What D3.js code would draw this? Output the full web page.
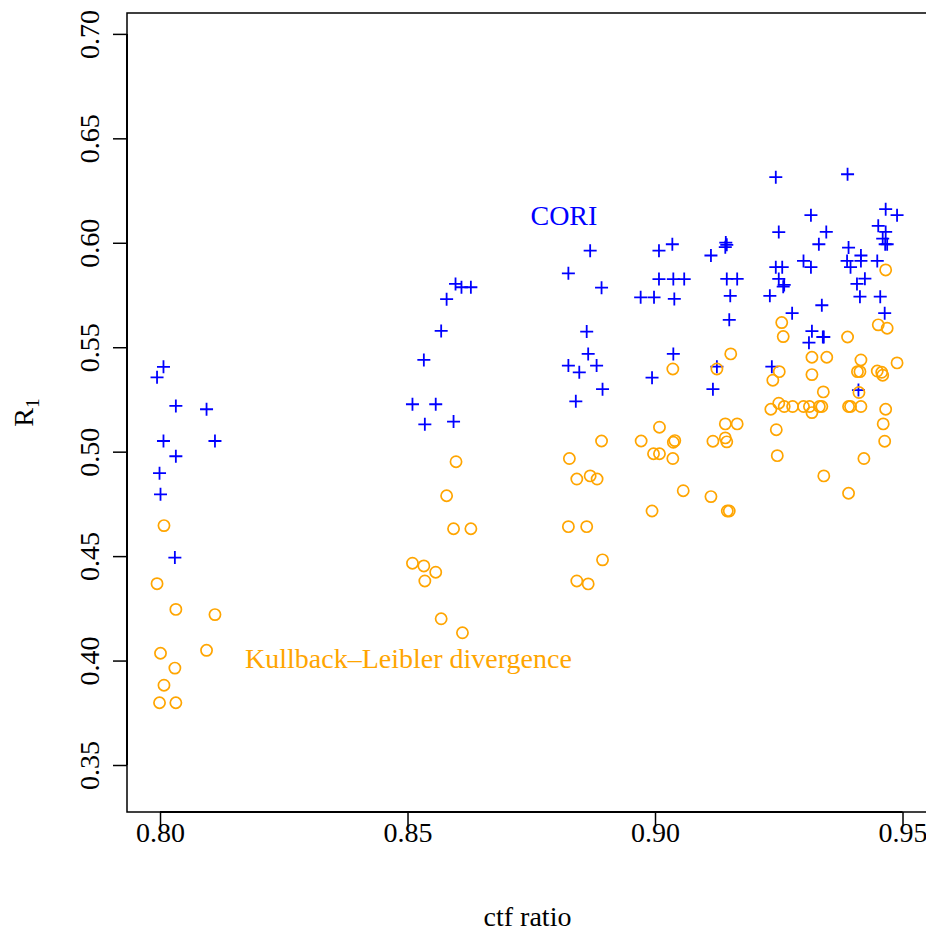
<!DOCTYPE html>
<html>
<head>
<meta charset="utf-8">
<script src="https://cdn.jsdelivr.net/npm/d3@7"></script>
<style>
  html, body { margin: 0; padding: 0; background: #fff; }
  svg { display: block; }
</style>
</head>
<body>
<div class="scatter-container"></div>
<script>
// ---- data ----
const coriCtf = [
  0.8007, 0.7994, 0.8032, 0.8094, 0.8007, 0.8111, 0.8032, 0.7999, 0.8001, 0.8030,
  0.8597, 0.8609, 0.8628, 0.8579, 0.8568, 0.8533, 0.8510, 0.8557, 0.8535, 0.8593,
  0.8869, 0.8825, 0.8892, 0.8862, 0.8865, 0.8825, 0.8847, 0.8882, 0.8894, 0.8840,
  0.8971, 0.8998, 0.9008, 0.9035, 0.9008, 0.9037, 0.9059, 0.9039, 0.9037, 0.8994,
  0.9113, 0.9143, 0.9142, 0.9145, 0.9145, 0.9166, 0.9152, 0.9150, 0.9125, 0.9117,
  0.9244, 0.9250, 0.9244, 0.9257, 0.9250, 0.9261, 0.9259, 0.9232, 0.9277, 0.9236,
  0.9315, 0.9346, 0.9331, 0.9300, 0.9315, 0.9337, 0.9317, 0.9341, 0.9339, 0.9311,
  0.9389, 0.9391, 0.9416, 0.9388, 0.9395, 0.9416, 0.9424, 0.9408, 0.9414, 0.9411,
  0.9466, 0.9489, 0.9451, 0.9466, 0.9460, 0.9465, 0.9469, 0.9449, 0.9455, 0.9464
];
const coriR1 = [
  0.5406, 0.5356, 0.5219, 0.5203, 0.5051, 0.5051, 0.4978, 0.4897, 0.4796, 0.4493,
  0.5803, 0.5787, 0.5787, 0.5730, 0.5578, 0.5439, 0.5227, 0.5227, 0.5131, 0.5144,
  0.5962, 0.5854, 0.5785, 0.5575, 0.5468, 0.5412, 0.5380, 0.5412, 0.5299, 0.5241,
  0.5739, 0.5739, 0.5962, 0.5993, 0.5826, 0.5826, 0.5826, 0.5731, 0.5468, 0.5354,
  0.5939, 0.6001, 0.5979, 0.5990, 0.5827, 0.5827, 0.5746, 0.5631, 0.5407, 0.5299,
  0.6314, 0.6051, 0.5883, 0.5883, 0.5827, 0.5798, 0.5790, 0.5746, 0.5663, 0.5407,
  0.6132, 0.6052, 0.5993, 0.5913, 0.5883, 0.5701, 0.5577, 0.5549, 0.5549, 0.5522,
  0.6328, 0.5977, 0.5939, 0.5913, 0.5883, 0.5913, 0.5828, 0.5803, 0.5742, 0.5295,
  0.6161, 0.6132, 0.6081, 0.6052, 0.6020, 0.5993, 0.5993, 0.5913, 0.5742, 0.5663
];

const klCtf = [
  0.8008, 0.7994, 0.8032, 0.8111, 0.8001, 0.8094, 0.8030, 0.8008, 0.7999, 0.8032,
  0.8598, 0.8579, 0.8593, 0.8628, 0.8510, 0.8533, 0.8557, 0.8535, 0.8568, 0.8611,
  0.8892, 0.8827, 0.8842, 0.8869, 0.8883, 0.8825, 0.8862, 0.8894, 0.8842, 0.8865,
  0.8972, 0.8994, 0.8997, 0.9009, 0.9009, 0.9036, 0.9036, 0.9037, 0.9040, 0.9057,
  0.9125, 0.9153, 0.9117, 0.9142, 0.9166, 0.9142, 0.9145, 0.9113, 0.9146, 0.9150,
  0.9256, 0.9259, 0.9251, 0.9238, 0.9234, 0.9250, 0.9261, 0.9278, 0.9245, 0.9247,
  0.9317, 0.9347, 0.9317, 0.9340, 0.9300, 0.9312, 0.9317, 0.9332, 0.9337, 0.9341,
  0.9389, 0.9416, 0.9409, 0.9414, 0.9412, 0.9391, 0.9395, 0.9416, 0.9422, 0.9391,
  0.9466, 0.9451, 0.9469, 0.9449, 0.9458, 0.9460, 0.9489, 0.9466, 0.9461, 0.9464
];
const klR1 = [
  0.4646, 0.4368, 0.4245, 0.4220, 0.4035, 0.4049, 0.3964, 0.3882, 0.3798, 0.3798,
  0.4952, 0.4789, 0.4631, 0.4631, 0.4466, 0.4453, 0.4423, 0.4381, 0.4200, 0.4133,
  0.5051, 0.4967, 0.4869, 0.4884, 0.4869, 0.4641, 0.4641, 0.4482, 0.4381, 0.4367,
  0.5051, 0.4716, 0.4990, 0.4990, 0.5117, 0.5396, 0.4967, 0.5045, 0.5053, 0.4813,
  0.5396, 0.5468, 0.5050, 0.5133, 0.5133, 0.5066, 0.5047, 0.4785, 0.4716, 0.4716,
  0.5618, 0.5551, 0.5383, 0.5342, 0.5203, 0.5232, 0.5216, 0.5216, 0.5105, 0.4981,
  0.5452, 0.5452, 0.5369, 0.5286, 0.5216, 0.5216, 0.5187, 0.5216, 0.5216, 0.4884,
  0.5549, 0.5439, 0.5383, 0.5383, 0.5283, 0.5216, 0.5216, 0.5216, 0.4967, 0.4801,
  0.5870, 0.5607, 0.5591, 0.5386, 0.5380, 0.5366, 0.5425, 0.5203, 0.5133, 0.5050
];

const xTicks = [0.80, 0.85, 0.90, 0.95];
const yTicks = [0.35, 0.40, 0.45, 0.50, 0.55, 0.60, 0.65, 0.70];

// series labels placed in data coordinates
const labels = [
  { text: 'CORI', x: 0.8816, y: 0.6133, color: 'blue' },
  { text: 'Kullback\u2013Leibler divergence', x: 0.8502, y: 0.4012, color: 'orange' }
];

//---->LAYOUT<-----//
const outerW = 926,
  outerH = 931;

const box = { left: 127, right: 928, top: 13, bottom: 812 };

const font = '"Liberation Serif", "Times New Roman", serif',
  fontSize = 28;

const x = d3.scaleLinear()
  .domain([0.79333, 0.95515])
  .range([box.left, box.right]);

const y = d3.scaleLinear()
  .domain([0.3275, 0.7100])
  .range([box.bottom, box.top]);

const svg = d3.select('.scatter-container').append('svg')
  .attr('width', outerW)
  .attr('height', outerH)
  .style('font-family', font)
  .style('font-size', fontSize + 'px');

// plot frame
svg.append('rect')
  .attr('x', box.left)
  .attr('y', box.top)
  .attr('width', box.right - box.left)
  .attr('height', box.bottom - box.top)
  .attr('fill', 'none')
  .attr('stroke', '#000')
  .attr('stroke-width', 1.5);

// x axis
const xAxis = svg.append('g')
  .attr('transform', `translate(0, ${box.bottom})`)
  .call(d3.axisBottom(x).tickValues(xTicks).tickFormat(d3.format('.2f')).tickSize(14));

xAxis.select('.domain').remove();
xAxis.selectAll('line').attr('stroke-width', 1.5);
xAxis.selectAll('text')
  .attr('y', 30)
  .attr('dy', 0)
  .style('font-family', font)
  .style('font-size', fontSize + 'px')
  .attr('fill', '#000');

xAxis.append('line')
  .attr('x1', x(xTicks[0]))
  .attr('x2', x(xTicks[xTicks.length - 1]))
  .attr('stroke', '#000')
  .attr('stroke-width', 2);

// y axis
const yAxis = svg.append('g')
  .attr('transform', `translate(${box.left}, 0)`)
  .call(d3.axisLeft(y).tickValues(yTicks).tickFormat(d3.format('.2f')).tickSize(14));

yAxis.select('.domain').remove();
yAxis.selectAll('line').attr('stroke-width', 1.5);
yAxis.selectAll('.tick text')
  .attr('x', null)
  .attr('dy', 0)
  .attr('transform', 'translate(-28, 0) rotate(-90)')
  .attr('text-anchor', 'middle')
  .style('font-family', font)
  .style('font-size', fontSize + 'px')
  .attr('fill', '#000');

yAxis.append('line')
  .attr('y1', y(yTicks[0]))
  .attr('y2', y(yTicks[yTicks.length - 1]))
  .attr('stroke', '#000')
  .attr('stroke-width', 2);

// axis titles
svg.append('text')
  .attr('x', (box.left + box.right) / 2)
  .attr('y', 926)
  .attr('text-anchor', 'middle')
  .text('ctf ratio');

const yTitle = svg.append('text')
  .attr('transform', `translate(33, ${(box.top + box.bottom) / 2}) rotate(-90)`)
  .attr('text-anchor', 'middle');
yTitle.append('tspan').text('R');
yTitle.append('tspan')
  .attr('dy', '0.3em')
  .style('font-size', (fontSize * 0.7) + 'px')
  .text('1');

// CORI: plus signs
const cori = coriCtf.map((c, i) => ({ c, r: coriR1[i] }));
const kl = klCtf.map((c, i) => ({ c, r: klR1[i] }));

const arm = 6.5;
svg.append('g')
  .attr('stroke', 'blue')
  .attr('stroke-width', 1.8)
  .attr('fill', 'none')
  .selectAll('path')
  .data(cori)
  .enter()
  .append('path')
  .attr('d', d => `M${x(d.c) - arm},${y(d.r)}h${2 * arm}M${x(d.c)},${y(d.r) - arm}v${2 * arm}`);

// KL divergence: open circles
svg.append('g')
  .attr('stroke', 'orange')
  .attr('stroke-width', 1.7)
  .attr('fill', 'none')
  .selectAll('circle')
  .data(kl)
  .enter()
  .append('circle')
  .attr('cx', d => x(d.c))
  .attr('cy', d => y(d.r))
  .attr('r', 5.6);

// in-plot labels
svg.append('g')
  .selectAll('text')
  .data(labels)
  .enter()
  .append('text')
  .attr('x', d => x(d.x))
  .attr('y', d => y(d.y))
  .attr('dy', '0.35em')
  .attr('text-anchor', 'middle')
  .attr('fill', d => d.color)
  .text(d => d.text);
</script>
</body>
</html>
